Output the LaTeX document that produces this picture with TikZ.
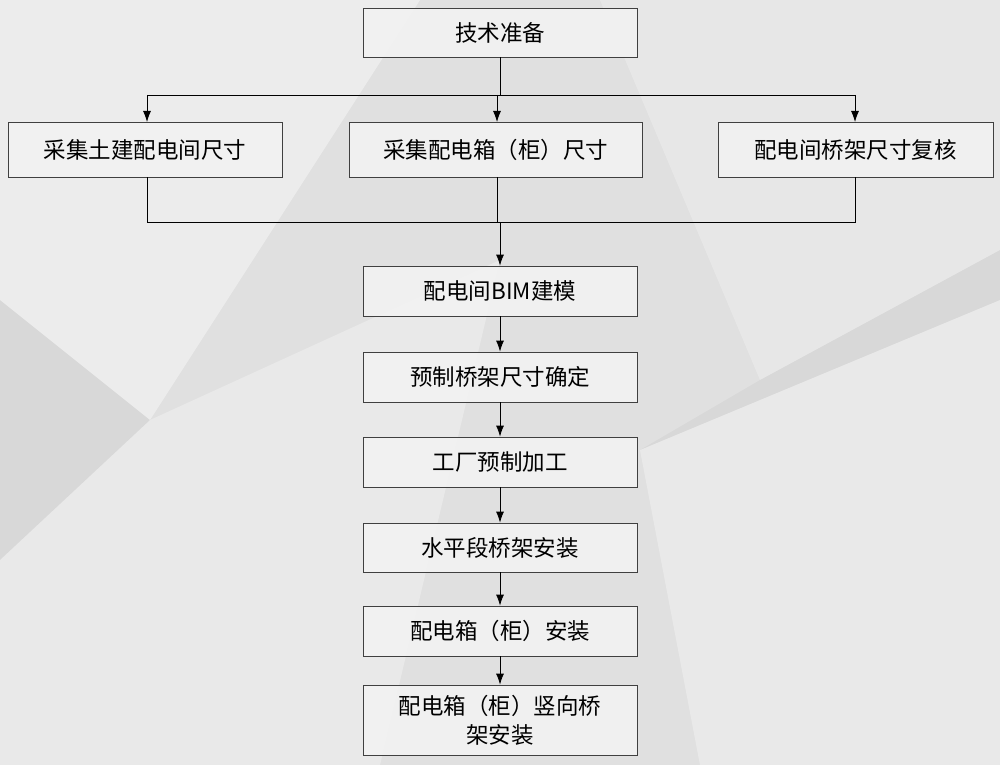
\documentclass[tikz,border=0pt]{standalone}
\usepackage{fontspec}
\usetikzlibrary{arrows.meta}
\newfontfamily\cjk{Noto Sans CJK SC}
\begin{document}
\begin{tikzpicture}[x=1pt,y=-1pt,
  box/.style={draw=black!75,line width=0.8pt,fill=black!5,fill opacity=0.9,text opacity=1,font=\cjk\fontsize{22.5}{29}\selectfont,inner sep=0pt,align=center},
  arr/.style={-{Latex[length=11pt,width=8pt]},line width=0.8pt},
  ln/.style={line width=0.8pt}]
\useasboundingbox (0,0) rectangle (1000,765);
\fill[black!12] (0,0) rectangle (1000,765);
\fill[white,opacity=0.4] (0,0) -- (420,0) -- (150,420) -- (0,300) -- cycle;
\fill[white,opacity=0.3] (150,420) -- (500,260) -- (380,765) -- (0,765) -- (0,560) -- cycle;
\fill[white,opacity=0.25] (600,0) -- (1000,0) -- (1000,250) -- (760,380) -- cycle;
\fill[white,opacity=0.3] (640,450) -- (1000,300) -- (1000,765) -- (700,765) -- cycle;
\fill[black,opacity=0.03] (0,300) -- (150,420) -- (0,560) -- cycle;
\fill[black,opacity=0.03] (760,380) -- (1000,250) -- (1000,300) -- (640,450) -- cycle;
\node[box,minimum width=274pt,minimum height=49pt] (a) at (500,32.5) {技术准备};
\node[box,minimum width=274pt,minimum height=55pt] (b1) at (145,149.5) {采集土建配电间尺寸};
\node[box,minimum width=293pt,minimum height=55pt] (b2) at (495.5,149.5) {采集配电箱（柜）尺寸};
\node[box,minimum width=275pt,minimum height=55pt] (b3) at (855.5,149.5) {配电间桥架尺寸复核};
\node[box,minimum width=274pt,minimum height=50pt] (c) at (500,291) {配电间BIM建模};
\node[box,minimum width=274pt,minimum height=50pt] (d) at (500,377) {预制桥架尺寸确定};
\node[box,minimum width=274pt,minimum height=50pt] (e) at (500,462) {工厂预制加工};
\node[box,minimum width=274pt,minimum height=49pt] (f) at (500,547.5) {水平段桥架安装};
\node[box,minimum width=274pt,minimum height=50pt] (g) at (500,631) {配电箱（柜）安装};
\node[box,minimum width=274pt,minimum height=70pt] (h) at (500,720) {配电箱（柜）竖向桥\\架安装};
\coordinate (t) at (500,95);
\draw[ln] (a.south) -- (t);
\draw[ln] (147,95) -- (855,95);
\draw[arr] (147,95) -- (147,122);
\draw[arr] (497,95) -- (497,122);
\draw[arr] (855,95) -- (855,122);
\draw[ln] (147,177) -- (147,222) -- (855,222) -- (855,177);
\draw[ln] (497,177) -- (497,222);
\draw[arr] (500,222) -- (c.north);
\draw[arr] (c) -- (d);
\draw[arr] (d) -- (e);
\draw[arr] (e) -- (f);
\draw[arr] (f) -- (g);
\draw[arr] (g) -- (h);
\end{tikzpicture}
\end{document}
